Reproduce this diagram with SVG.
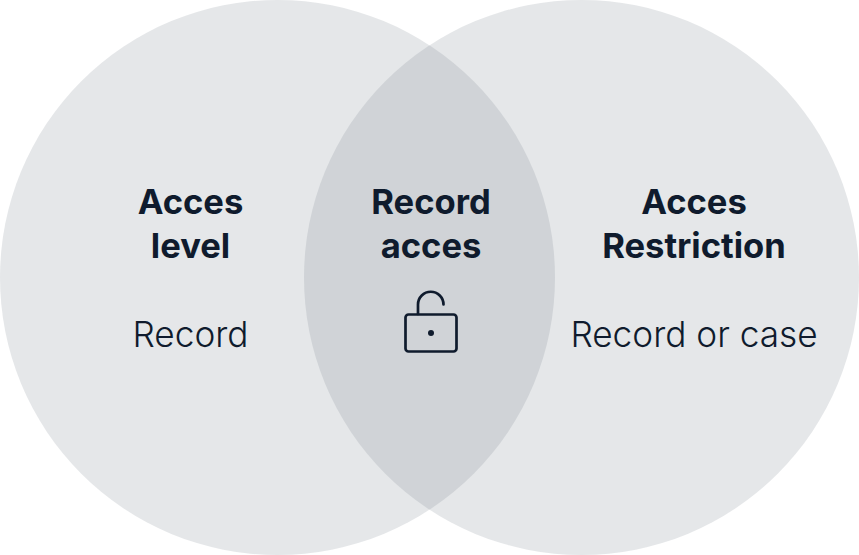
<svg xmlns="http://www.w3.org/2000/svg" width="859" height="555" viewBox="0 0 859 555">
<style>
.t{font-family:Inter,"Liberation Sans",sans-serif;font-size:34px;fill:#0f1b2d;text-anchor:middle}
.b{font-weight:700;font-size:34.6px}
.r{font-weight:300;font-size:35.2px}
.c{fill:#7d8590;fill-opacity:.2}
.i{fill:none;stroke:#0f1b2d;stroke-width:2.700;stroke-linecap:round;stroke-linejoin:round}
</style>
<rect width="859" height="555" fill="#fff"/>
<g id="left"><circle class="c" cx="277.500" cy="277.500" r="277.500"/><text class="t b" x="190.500" y="214">Acces</text><text class="t b" x="190.500" y="258">level</text><text class="t r" x="190.500" y="347">Record</text></g>
<g id="right"><circle class="c" cx="581.500" cy="277.500" r="277.500"/><text class="t b" x="694" y="214">Acces</text><text class="t b" x="694" y="258">Restriction</text><text class="t r" x="694" y="347">Record or case</text></g>
<g id="center"><text class="t b" x="431" y="214">Record</text><text class="t b" x="431" y="258">acces</text>
<g id="lock"><rect class="i" x="405.500" y="314.500" width="51" height="37" rx="3"/><path class="i" d="M418 314V304.500a12.750 12.750 0 0 1 25.500 0"/><circle cx="431" cy="333" r="3" fill="#0f1b2d"/></g></g>
<g id="connectors"></g>
</svg>
